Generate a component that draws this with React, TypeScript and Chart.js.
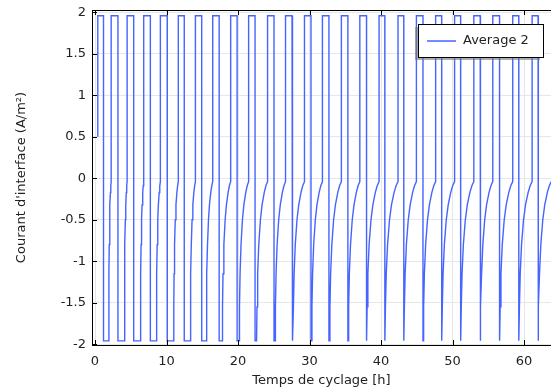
import React, { useEffect, useRef } from 'react';
import { Chart, registerables } from 'chart.js';

Chart.register(...registerables);

const seriesLabel = 'Average 2';
const xTitle = 'Temps de cyclage [h]';
const yTitle = "Courant d'interface (A/m²)";
const xTicks = [0, 10, 20, 30, 40, 50, 60];
const yTicks = [-2, -1.5, -1, -0.5, 0, 0.5, 1, 1.5, 2];

// current levels
const chargeLevel = 1.96;
const dischargeLevel = -1.96;
const startValue = 0.5;

// per-cycle event times (h)
const riseTimes = [0.39, 2.26, 4.49, 6.81, 9.14, 11.65, 14.04, 16.46, 18.97, 21.48, 24.13, 26.64, 29.29, 31.8, 34.45, 37.03, 39.72, 42.37, 44.94, 47.63, 50.28, 52.97, 55.62, 58.41, 61.12];
const fallTimes = [1.19, 3.21, 5.41, 7.74, 10.11, 12.48, 14.92, 17.36, 19.87, 22.38, 25.03, 27.55, 30.2, 32.71, 35.36, 37.96, 40.52, 43.17, 45.86, 48.47, 51.12, 53.86, 56.56, 59.25, 61.95];
const cvTimes = [1.92, 4.11, 6.35, 8.58, 10.99, 13.32, 15.55, 17.78, 20.15, 22.59, 25.17, 27.68, 30.27, 32.78, 35.4, 37.98, 40.54, 43.19, 45.88, 48.49, 51.14, 53.88, 56.58, 59.27, 61.97];
const lastEndTime = 63.8;

// shape of the decaying discharge current (fraction of the decay time, value)
const decayFrac = [0, 0.04, 0.1, 0.2, 0.35, 0.5, 0.7, 0.85, 1.0];
const decayVal = [-1.96, -1.55, -1.15, -0.8, -0.5, -0.32, -0.17, -0.09, -0.04];

function buildPoints() {
  const pts: { x: number; y: number }[] = [];
  pts.push({ x: riseTimes[0], y: startValue });
  for (let i = 0; i < fallTimes.length; i++) {
    pts.push({ x: riseTimes[i], y: chargeLevel });
    pts.push({ x: fallTimes[i], y: chargeLevel });
    pts.push({ x: fallTimes[i], y: dischargeLevel });
    pts.push({ x: cvTimes[i], y: dischargeLevel });
    const tEnd = i + 1 < riseTimes.length ? riseTimes[i + 1] : lastEndTime;
    const d = tEnd - cvTimes[i];
    for (let k = 1; k < decayFrac.length; k++) {
      pts.push({ x: cvTimes[i] + decayFrac[k] * d, y: decayVal[k] });
    }
  }
  return pts;
}

const FONT = 'DejaVu Sans';

const framePlugin = {
  id: 'frame',
  afterDatasetsDraw(chart: any) {
    const { ctx, chartArea, scales } = chart;
    const { left, right, top, bottom } = chartArea;
    ctx.save();
    ctx.strokeStyle = '#000';
    ctx.lineWidth = 1;
    ctx.beginPath();
    ctx.moveTo(left, top + 0.5);
    ctx.lineTo(right + 2, top + 0.5);
    ctx.stroke();
    const tl = 5;
    ctx.beginPath();
    for (const v of xTicks) {
      const x = Math.round(scales.x.getPixelForValue(v)) + 0.5;
      ctx.moveTo(x, bottom);
      ctx.lineTo(x, bottom - tl);
      ctx.moveTo(x, top);
      ctx.lineTo(x, top + tl);
    }
    for (const v of yTicks) {
      const y = Math.round(scales.y.getPixelForValue(v)) + 0.5;
      ctx.moveTo(left, y);
      ctx.lineTo(left + tl, y);
    }
    ctx.stroke();
    ctx.restore();
  },
  afterDraw(chart: any) {
    const { ctx } = chart;
    const ds = chart.data.datasets[0];
    const bx = 418, by = 24, bw = 125, bh = 33;
    ctx.save();
    ctx.fillStyle = 'rgba(120,120,120,0.6)';
    ctx.fillRect(bx - 3, by + 3, bw, bh);
    ctx.fillStyle = '#fff';
    ctx.fillRect(bx, by, bw, bh);
    ctx.strokeStyle = '#000';
    ctx.lineWidth = 1;
    ctx.strokeRect(bx + 0.5, by + 0.5, bw, bh);
    ctx.strokeStyle = ds.borderColor;
    ctx.lineWidth = 1.5;
    ctx.beginPath();
    ctx.moveTo(427, 41);
    ctx.lineTo(456, 41);
    ctx.stroke();
    ctx.fillStyle = '#222';
    ctx.font = `13px "${FONT}"`;
    ctx.textBaseline = 'middle';
    ctx.textAlign = 'left';
    ctx.fillText(ds.label, 463, 41);
    ctx.restore();
  },
};

export default function App() {
  const ref = useRef<HTMLCanvasElement | null>(null);
  useEffect(() => {
    if (!ref.current) return;
    const chart = new Chart(ref.current, {
      type: 'line',
      data: {
        datasets: [
          {
            label: seriesLabel,
            data: buildPoints(),
            borderColor: 'rgb(70,100,255)',
            borderWidth: 1.4,
            pointRadius: 0,
            tension: 0,
            fill: false,
          },
        ],
      },
      options: {
        animation: false,
        responsive: false,
        layout: { padding: { left: 0, right: 0, top: 10, bottom: 0 } },
        plugins: { legend: { display: false }, tooltip: { enabled: false } },
        scales: {
          x: {
            type: 'linear',
            min: -0.42,
            max: 63.76,
            afterBuildTicks: (s: any) => {
              s.ticks = xTicks.map((v) => ({ value: v }));
            },
            afterFit: (s: any) => {
              s.height = 44;
              s.paddingLeft = 0;
              s.paddingRight = 0;
            },
            grid: { color: '#e6e6e6', drawTicks: false },
            border: { display: true, color: '#000', width: 1 },
            ticks: {
              padding: 9,
              color: '#222',
              font: { family: FONT, size: 13 },
              maxRotation: 0,
              callback: (v: any) => String(v),
            },
            title: {
              display: true,
              text: xTitle,
              color: '#222',
              font: { family: FONT, size: 13 },
              padding: { top: 0, bottom: 1 },
            },
          },
          y: {
            type: 'linear',
            min: -2.01,
            max: 2.03,
            afterBuildTicks: (s: any) => {
              s.ticks = yTicks.map((v) => ({ value: v }));
            },
            afterFit: (s: any) => {
              s.width = 92;
              s.paddingTop = 0;
              s.paddingBottom = 0;
            },
            grid: { color: '#e6e6e6', drawTicks: false },
            border: { display: true, color: '#000', width: 1 },
            ticks: {
              padding: 6,
              color: '#222',
              font: { family: FONT, size: 13 },
              callback: (v: any) => String(v),
            },
            title: {
              display: true,
              text: yTitle,
              color: '#222',
              font: { family: FONT, size: 13 },
              padding: { top: 14, bottom: 0 },
            },
          },
        },
      },
      plugins: [framePlugin],
    });
    return () => chart.destroy();
  }, []);
  return (
    <div style={{ position: 'absolute', left: 0, top: 0, width: 551, height: 389, background: '#fff' }}>
      <canvas ref={ref} width={551} height={389} />
    </div>
  );
}
